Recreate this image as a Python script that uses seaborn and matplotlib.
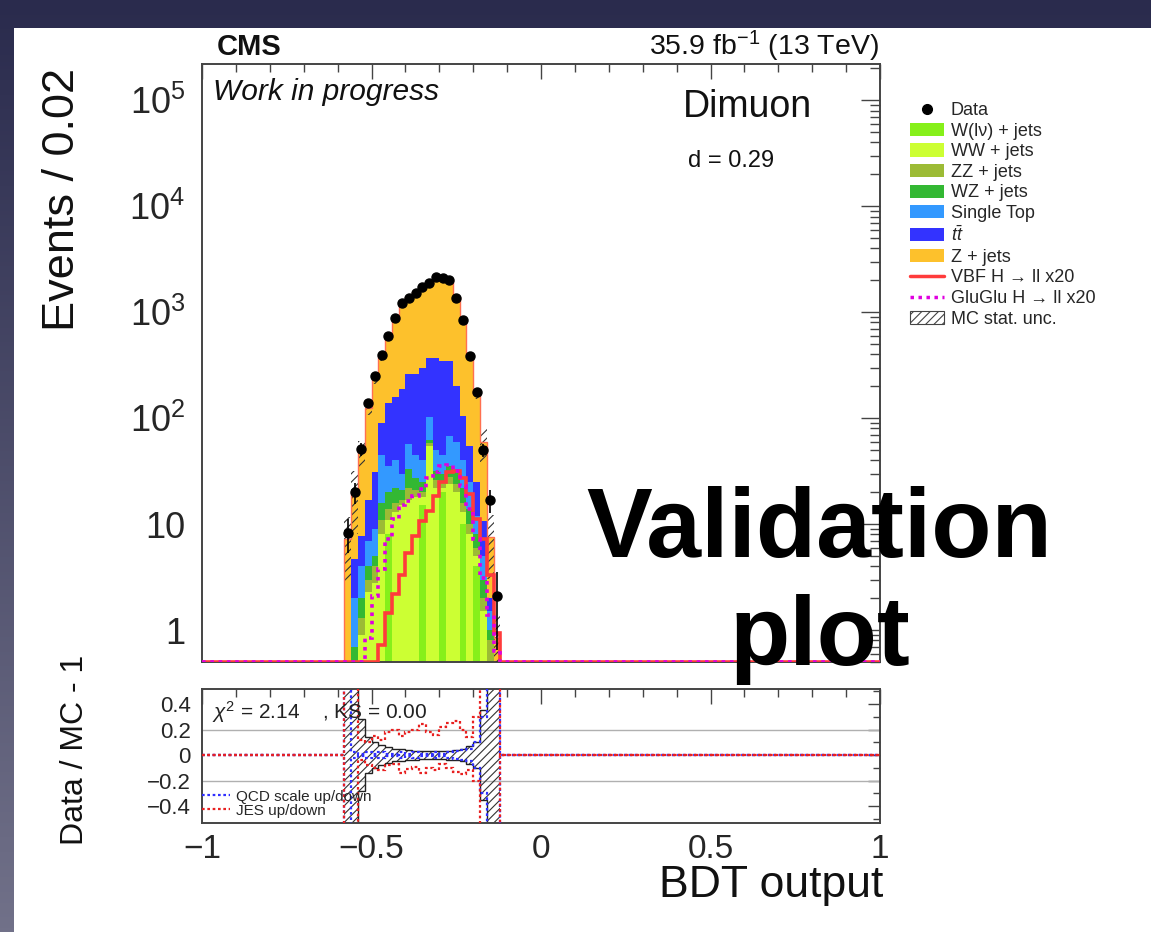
import numpy as np
import pandas as pd
import matplotlib
matplotlib.use("Agg")
import matplotlib.pyplot as plt
import seaborn as sns
from matplotlib.patches import Patch, Rectangle
from matplotlib.lines import Line2D
from matplotlib.colors import LinearSegmentedColormap
from matplotlib.ticker import (FixedLocator, FixedFormatter, MultipleLocator,
                               LogLocator, NullFormatter)

# ---------------- data ----------------
bin_centers = [-0.57, -0.55, -0.53, -0.51, -0.49, -0.47, -0.45, -0.43, -0.41, -0.39,
               -0.37, -0.35, -0.33, -0.31, -0.29, -0.27, -0.25, -0.23, -0.21, -0.19,
               -0.17, -0.15, -0.13]
data_counts = [8.2, 20, 51, 139, 249, 395, 596, 875, 1210, 1368, 1525, 1737, 1893,
               2157, 2110, 2004, 1368, 843, 382, 175, 50, 17, 2.1]

w_lnu_jets = [0.02, 0.05, 0.1, 0.2, 0.2, 0.2, 8, 0.3, 0.3, 0.3, 0.3, 15, 0.4, 0.4, 20,
              0.4, 0.3, 10, 0.3, 4, 0.1, 0.05, 0.01]
ww_jets = [0.03, 0.25, 0.8, 2.1, 2.6, 7.8, 3, 12.7, 14.7, 16.7, 17.7, 3, 54.6, 21.6, 2,
           23.6, 19.7, 3, 7.7, 1, 1.4, 0.45, 0.04]
zz_jets = [0.03, 0.2, 0.4, 0.7, 1.2, 3, 3, 3, 2, 5, 3, 2, 3, 4, 3, 4, 4, 3, 2, 1, 0.5,
           0.3, 0.03]
wz_jets = [0.02, 0.2, 0.7, 1.0, 1.0, 5, 6, 6, 4, 11, 6, 5, 4, 6, 5, 7, 8, 6, 4, 2, 1,
           0.2, 0.02]
single_top = [0.05, 1.3, 2.0, 3.0, 4.0, 29, 15, 18, 9, 24, 18, 15, 41, 18, 15, 33, 28,
              18, 11, 4, 2, 0.5, 0.05]
ttbar = [0.1, 2.7, 3.8, 10, 22, 45, 105, 120, 160, 203, 215, 260, 267, 320, 300, 277,
         140, 65, 30, 13, 5.6, 0.5, 0.1]
z_jets = [7.05, 15.3, 40.2, 108, 204, 290, 440, 690, 990, 1120, 1290, 1450, 1530, 1730,
          1755, 1655, 1200, 745, 335, 145, 49.4, 5.6, 0.59]

vbf_x20 = [0, 0, 0, 0, 0, 0.73, 1.44, 2.2, 3.3, 5.3, 7.8, 10.6, 13.4, 18.6, 25, 31, 32,
           27, 19.4, 11.3, 7.3, 3.3, 0.94]
ggh_x20 = [0, 0, 0, 0.84, 2.1, 3.8, 7.3, 11.3, 15, 16.7, 18.6, 21.6, 27, 31, 35, 36, 32,
           23, 14, 7.3, 3.1, 1.4, 0.64]

# relative MC stat. uncertainty and systematic variations (Data/MC - 1 panel)
mc_stat_rel = [0.6, 0.6, 0.28, 0.14, 0.1, 0.08, 0.06, 0.05, 0.045, 0.04, 0.035, 0.03,
               0.03, 0.03, 0.03, 0.035, 0.04, 0.05, 0.07, 0.1, 0.35, 0.6, 0.6]
jes_up = [0.8, 0.8, 0.12, 0.1, 0.15, 0.12, 0.18, 0.2, 0.15, 0.18, 0.2, 0.24, 0.18, 0.16,
          0.22, 0.25, 0.27, 0.2, 0.14, 0.3, 0.8, 0.8, 0.8]
jes_down = [-0.8, -0.8, -0.04, -0.08, -0.1, -0.12, -0.08, -0.07, -0.14, -0.11, -0.09,
            -0.14, -0.1, -0.12, -0.07, -0.1, -0.13, -0.15, -0.12, -0.2, -0.8, -0.8, -0.8]
qcd_up = [0.8, 0.02, 0.01, 0.02, 0.01, 0.02, 0.01, 0.01, 0.02, 0.01, 0.02, 0.01, 0.01,
          0.02, 0.01, 0.02, 0.03, 0.04, 0.05, 0.1, 0.3, 0.8, 0.8]
qcd_down = [-0.8, -0.02, -0.01, -0.02, -0.01, -0.02, -0.01, -0.01, -0.02, -0.01, -0.02,
            -0.01, -0.01, -0.02, -0.01, -0.02, -0.03, -0.04, -0.05, -0.1, -0.3, -0.8, -0.8]

process_names = ["W(lν) + jets", "WW + jets", "ZZ + jets", "WZ + jets", "Single Top",
                 r"$t\bar{t}$", "Z + jets"]
process_values = [w_lnu_jets, ww_jets, zz_jets, wz_jets, single_top, ttbar, z_jets]
process_colors = ["#86f01a", "#ccff33", "#9cbb35", "#33b833", "#3399ff", "#3333ff",
                  "#fdc12c"]

xtick_values = [-1, -0.5, 0, 0.5, 1]
xtick_labels = ["\u22121", "\u22120.5", "0", "0.5", "1"]
ytick_values = [1, 10, 100, 1000, 10000, 100000]
ytick_labels = ["1", "10", r"$10^{2}$", r"$10^{3}$", r"$10^{4}$", r"$10^{5}$"]
rtick_values = [-0.4, -0.2, 0, 0.2, 0.4]
rtick_labels = ["\u22120.4", "\u22120.2", "0", "0.2", "0.4"]

# ---------------- style ----------------
sns.set_theme(style="white")
plt.rcParams["font.family"] = ["Liberation Sans", "DejaVu Sans"]
plt.rcParams["mathtext.fontset"] = "custom"
plt.rcParams["mathtext.rm"] = "Liberation Sans"
plt.rcParams["mathtext.it"] = "Liberation Sans:italic"
plt.rcParams["mathtext.bf"] = "Liberation Sans:bold"
plt.rcParams["hatch.linewidth"] = 0.8

W, H = 1151, 932
fig = plt.figure(figsize=(W / 100, H / 100), dpi=100)


def fx(px):
    return px / W


def fy(py):
    return 1 - py / H


# slide background
bg = fig.add_axes([0, 0, 1, 1], zorder=-10)
grad = np.linspace(0, 1, 256)[:, None]
bg.imshow(grad, aspect="auto", extent=[0, 1, 0, 1],
          cmap=LinearSegmentedColormap.from_list("slide", ["#2a2b4d", "#717189"]))
bg.set_axis_off()
fig.add_artist(Rectangle((fx(14), 0), 1 - fx(14), fy(28), transform=fig.transFigure,
                         facecolor="white", edgecolor="none", zorder=-5))

ax = fig.add_axes([fx(202), fy(662), fx(880) - fx(202), fy(64) - fy(662)])
ax2 = fig.add_axes([fx(202), fy(823), fx(880) - fx(202), fy(689) - fy(823)])

edges = np.round(np.linspace(-1, 1, 101), 10)
offset = int(round((bin_centers[0] - 0.01 + 1) / 0.02))
nb = len(bin_centers)
sub_edges = edges[offset:offset + nb + 1]


def full(arr):
    out = np.zeros(100)
    out[offset:offset + nb] = arr
    return out


# ---------------- main panel ----------------
rows = []
for name, vals in zip(process_names, process_values):
    for c, v in zip(bin_centers, vals):
        rows.append((c, v, name))
df = pd.DataFrame(rows, columns=["bdt", "events", "process"])
palette = dict(zip(process_names, process_colors))
sns.histplot(data=df, x="bdt", weights="events", hue="process",
             hue_order=process_names[::-1], palette=palette, multiple="stack",
             binwidth=0.02, binrange=(-1, 1), element="step", fill=True, alpha=1,
             linewidth=0, legend=False, ax=ax)
ax.set_yscale("log")
ymin, ymax = 0.5, 2.2e5

total = np.sum(np.array(process_values), axis=0)
ax.stairs(total * (1 + np.array(mc_stat_rel)), sub_edges,
          baseline=total * (1 - np.array(mc_stat_rel)), fill=True, hatch="////",
          facecolor="none", edgecolor="#333333", linewidth=0, zorder=3)
ax.stairs(full(total), edges, color="#ff7050", lw=1.0, baseline=None, zorder=3)

ax.stairs(np.clip(full(vbf_x20), ymin, None), edges, color="#ff3b3b", lw=2.6,
          baseline=None, zorder=4)
ax.stairs(np.clip(full(ggh_x20), ymin, None), edges, color="#e000e0", lw=2.6,
          linestyle=(0, (1, 1.3)), baseline=None, zorder=5)

d = np.array(data_counts)
ax.errorbar(bin_centers, d, yerr=np.sqrt(d), fmt="o", color="black", ms=6.5,
            elinewidth=1.2, capsize=0, zorder=6)

ax.set_xlim(-1, 1)
ax.set_ylim(ymin, ymax)
ax.set_xlabel("")
ax.set_ylabel("")
ax.xaxis.set_major_locator(FixedLocator(xtick_values))
ax.xaxis.set_minor_locator(MultipleLocator(0.1))
ax.xaxis.set_major_formatter(NullFormatter())
ax.yaxis.set_major_locator(FixedLocator(ytick_values))
ax.yaxis.set_major_formatter(FixedFormatter(ytick_labels))
ax.yaxis.set_minor_locator(LogLocator(base=10, subs=np.arange(2, 10), numticks=20))
ax.yaxis.set_minor_formatter(NullFormatter())
ax.tick_params(axis="both", which="both", direction="in", top=True, right=True,
               color="#444444")
ax.tick_params(axis="x", which="major", length=11, width=1)
ax.tick_params(axis="x", which="minor", length=6, width=1)
ax.tick_params(axis="y", which="major", length=14, width=1, labelsize=26, pad=12)
ax.tick_params(axis="y", which="minor", length=7, width=1)
for sp in ax.spines.values():
    sp.set_color("#444444")
    sp.set_linewidth(1.4)

# ---------------- ratio panel ----------------
rel = np.array(mc_stat_rel)
ax2.stairs(rel, sub_edges, baseline=-rel, fill=True, hatch="////", facecolor="none",
           edgecolor="#333333", linewidth=0, zorder=2)
ax2.stairs(rel, sub_edges, color="#222222", lw=1.0, baseline=None, zorder=2)
ax2.stairs(-rel, sub_edges, color="#222222", lw=1.0, baseline=None, zorder=2)
for yv in (0.2, -0.2):
    ax2.axhline(yv, color="#b0b0b0", lw=1.0, zorder=1)
ax2.stairs(full(qcd_up), edges, color="#3030ff", lw=1.6, linestyle=(0, (1.2, 1.2)),
           baseline=None, zorder=3)
ax2.stairs(full(qcd_down), edges, color="#3030ff", lw=1.6, linestyle=(0, (1.2, 1.2)),
           baseline=None, zorder=3)
ax2.stairs(full(jes_up), edges, color="#e82020", lw=1.6, linestyle=(0, (1.2, 1.2)),
           baseline=None, zorder=4)
ax2.stairs(full(jes_down), edges, color="#e82020", lw=1.6, linestyle=(0, (1.2, 1.2)),
           baseline=None, zorder=4)

ax2.set_xlim(-1, 1)
ax2.set_ylim(-0.533, 0.518)
ax2.xaxis.set_major_locator(FixedLocator(xtick_values))
ax2.xaxis.set_major_formatter(FixedFormatter(xtick_labels))
ax2.xaxis.set_minor_locator(MultipleLocator(0.1))
ax2.yaxis.set_major_locator(FixedLocator(rtick_values))
ax2.yaxis.set_major_formatter(FixedFormatter(rtick_labels))
ax2.yaxis.set_minor_locator(MultipleLocator(0.1))
ax2.tick_params(axis="both", which="both", direction="in", top=True, right=True,
                color="#444444")
ax2.tick_params(axis="x", which="major", length=11, width=1, labelsize=24, pad=8)
ax2.tick_params(axis="x", which="minor", length=6, width=1)
ax2.tick_params(axis="y", which="major", length=9, width=1, labelsize=16, pad=8)
ax2.tick_params(axis="y", which="minor", length=5, width=1)
for sp in ax2.spines.values():
    sp.set_color("#444444")
    sp.set_linewidth(1.4)

ax2.text(0.015, 0.83, r"$\chi^{2}$ = 2.14    , KS = 0.00", transform=ax2.transAxes,
         fontsize=15, va="center", ha="left", color="#222222", zorder=5)
rl = ax2.legend(handles=[Line2D([], [], color="#3030ff", lw=1.6, ls=(0, (1.2, 1.2))),
                         Line2D([], [], color="#e82020", lw=1.6, ls=(0, (1.2, 1.2)))],
                labels=["QCD scale up/down", "JES up/down"], loc="lower left",
                bbox_to_anchor=(0.0, 0.04), frameon=False, fontsize=11,
                handlelength=1.8, handletextpad=0.4, labelspacing=0.0,
                borderpad=0.0, borderaxespad=0.0)

# ---------------- texts ----------------
fig.text(fx(249), fy(55), "CMS", ha="center", va="baseline", fontsize=21,
         fontweight="bold", color="#111111")
fig.text(fx(879), fy(55), r"35.9 fb$^{-1}$ (13 TeV)", ha="right", va="baseline",
         fontsize=20.5, color="#111111")
fig.text(fx(213), fy(100), "Work in progress", ha="left", va="baseline", fontsize=21.5,
         style="italic", color="#111111")
fig.text(fx(747), fy(117), "Dimuon", ha="center", va="baseline", fontsize=27,
         color="#111111")
fig.text(fx(688), fy(167), "d = 0.29", ha="left", va="baseline", fontsize=17,
         color="#111111")
fig.text(fx(62), fy(68), "Events / 0.02", rotation=90, ha="center", va="top",
         fontsize=32.5, color="#111111")
fig.text(fx(75), fy(750), "Data / MC - 1", rotation=90, ha="center", va="center",
         fontsize=23, color="#111111")
fig.text(fx(883), fy(885), "BDT output", ha="right", va="center", fontsize=32,
         color="#111111")
fig.text(fx(819), fy(557), "Validation", ha="center", va="baseline", fontsize=71,
         fontweight="bold", color="black", zorder=10)
fig.text(fx(820), fy(665), "plot", ha="center", va="baseline", fontsize=71,
         fontweight="bold", color="black", zorder=10)

# ---------------- legend ----------------
handles = [Line2D([], [], marker="o", color="black", ls="none", ms=7)]
labels = ["Data"]
for name, col in zip(process_names, process_colors):
    handles.append(Patch(facecolor=col, edgecolor="none"))
    labels.append(name)
handles += [Line2D([], [], color="#ff3b3b", lw=2.5),
            Line2D([], [], color="#e000e0", lw=2.5, ls=(0, (1, 1.3))),
            Patch(facecolor="white", edgecolor="#444444", hatch="////", lw=0.8)]
labels += ["VBF H \u2192 ll x20", "GluGlu H \u2192 ll x20", "MC stat. unc."]
fig.legend(handles, labels, loc="upper left", bbox_to_anchor=(fx(910), fy(102)),
           frameon=False, fontsize=13, handlelength=1.9, handleheight=0.75,
           handletextpad=0.35, labelspacing=0.2, borderpad=0, borderaxespad=0)

fig.savefig("out.png", dpi=100)
